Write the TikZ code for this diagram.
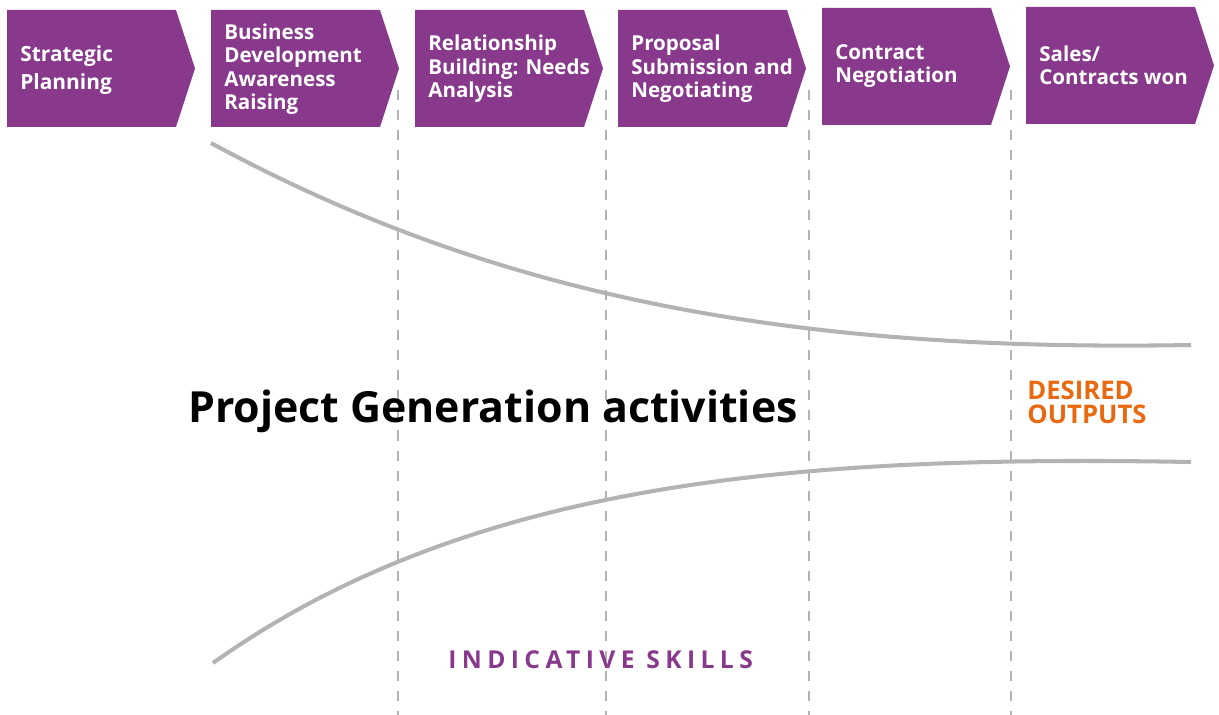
\documentclass[tikz,border=0pt]{standalone}
\usepackage{fontspec}
\setmainfont{Open Sans}
\definecolor{stagepurple}{HTML}{88398B}
\definecolor{outorange}{HTML}{E8690F}
\definecolor{funnelgrey}{HTML}{B3B3B3}
\begin{document}
\begin{tikzpicture}[
        x=0.02cm, y=-0.02cm,
        stage/.style={fill=stagepurple},
        stagetext/.style={anchor=west, inner sep=0pt, align=left, text=white,
            font=\bfseries\fontsize{11.7}{13.3}\selectfont},
        guide/.style={draw=funnelgrey, line width=1.1pt, dash pattern=on 5.7pt off 5.7pt},
        funnel/.style={draw=funnelgrey, line width=2.3pt},
        title/.style={anchor=base, inner sep=0pt, font=\bfseries\fontsize{24.4}{30}\selectfont}
    ]
        \useasboundingbox (0,0) rectangle (1219,715);

        \draw[guide] (398,90) -- (398,715);
        \draw[guide] (606,90) -- (606,715);
        \draw[guide] (809,90) -- (809,715);
        \draw[guide] (1011,90) -- (1011,715);

        \foreach \x/\t in {7/10, 211/10, 415/10, 618/10, 822/8, 1026/7}
            \fill[stage] (\x,\t) -- ++(169,0) -- ++(19,58.5) -- ++(-19,58.5) -- ++(-169,0) -- cycle;

        \node[stagetext, font=\bfseries\fontsize{11.9}{15.9}\selectfont] (planning) at (20,70) {Strategic\\Planning};
        \node[stagetext] (awareness) at (224,69) {Business\\Development\\Awareness\\Raising};
        \node[stagetext] (needs) at (428,69) {Relationship\\Building: Needs\\Analysis};
        \node[stagetext] (proposal) at (631,69) {Proposal\\Submission and\\Negotiating};
        \node[stagetext] (contract) at (835,66) {Contract\\Negotiation};
        \node[stagetext] (sales) at (1039,65) {Sales/\\Contracts won};

        \draw[funnel] (211,143) .. controls (500,300) and (800,352) .. (1191,345);
        \draw[funnel] (213,663) .. controls (470,480) and (800,455) .. (1191,462);

        \node[title] (activities) at (493,423) {Project Generation activities};
        \node[anchor=west, inner sep=0pt, align=left, text=outorange,
            font=\bfseries\fontsize{14.6}{13.6}\selectfont] (outputs) at (1027,402.5) {DESIRED\\OUTPUTS};
        \node[anchor=base west, inner sep=0pt, text=stagepurple,
            font=\bfseries\fontsize{14}{16}\selectfont\addfontfeature{LetterSpace=22}] (skills) at (448,668) {INDICATIVE SKILLS};
    \end{tikzpicture}
\end{document}
